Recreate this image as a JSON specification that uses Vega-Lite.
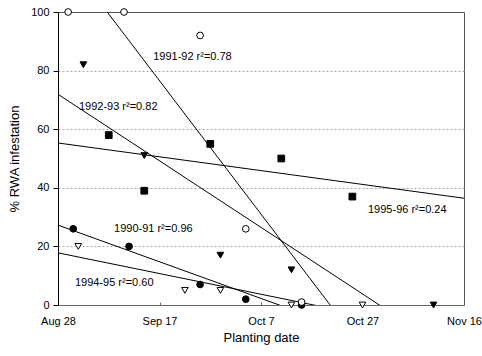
{
  "$schema": "https://vega.github.io/schema/vega-lite/v6.json",
  "autosize": "none",
  "width": 406,
  "height": 293,
  "padding": {"left": 58, "top": 12, "right": 18, "bottom": 51},
  "background": "white",
  "config": {
    "font": "Liberation Sans",
    "view": {"stroke": "#555", "strokeWidth": 1},
    "axis": {"labelFont": "Liberation Sans", "titleFont": "Liberation Sans", "labelColor": "black", "titleColor": "black", "titleFontWeight": "normal"}
  },
  "layer": [
    {
      "data": {
        "values": [
          {"series": "1990-91", "date": "2000-08-31", "value": 26},
          {"series": "1990-91", "date": "2000-09-11", "value": 20},
          {"series": "1990-91", "date": "2000-09-25", "value": 7},
          {"series": "1990-91", "date": "2000-10-04", "value": 2},
          {"series": "1990-91", "date": "2000-10-15", "value": 0},
          {"series": "1991-92", "date": "2000-08-30", "value": 100},
          {"series": "1991-92", "date": "2000-09-10", "value": 100},
          {"series": "1991-92", "date": "2000-09-25", "value": 92},
          {"series": "1991-92", "date": "2000-10-04", "value": 26},
          {"series": "1991-92", "date": "2000-10-15", "value": 1},
          {"series": "1992-93", "date": "2000-09-02", "value": 82},
          {"series": "1992-93", "date": "2000-09-14", "value": 51},
          {"series": "1992-93", "date": "2000-09-29", "value": 17},
          {"series": "1992-93", "date": "2000-10-13", "value": 12},
          {"series": "1992-93", "date": "2000-11-10", "value": 0},
          {"series": "1994-95", "date": "2000-09-01", "value": 20},
          {"series": "1994-95", "date": "2000-09-22", "value": 5},
          {"series": "1994-95", "date": "2000-09-29", "value": 5},
          {"series": "1994-95", "date": "2000-10-13", "value": 0},
          {"series": "1994-95", "date": "2000-10-27", "value": 0},
          {"series": "1995-96", "date": "2000-09-07", "value": 58},
          {"series": "1995-96", "date": "2000-09-14", "value": 39},
          {"series": "1995-96", "date": "2000-09-27", "value": 55},
          {"series": "1995-96", "date": "2000-10-11", "value": 50},
          {"series": "1995-96", "date": "2000-10-25", "value": 37}
        ],
        "format": {"parse": {"date": "date"}}
      },
      "layer": [
        {
          "transform": [
            {"regression": "value", "on": "date", "groupby": ["series"], "extent": [966729600000, 975110400000]}
          ],
          "mark": {"type": "line", "color": "black", "strokeWidth": 1, "clip": true},
          "encoding": {
            "x": {
              "field": "date", "type": "temporal",
              "scale": {"type": "utc", "domain": [{"year": 2000, "month": 8, "date": 28, "utc": true}, {"year": 2000, "month": 11, "date": 16, "utc": true}]},
              "axis": {
                "title": "Planting date", "titleFontSize": 13, "titlePadding": 5,
                "values": [
                  {"year": 2000, "month": 8, "date": 28, "utc": true},
                  {"year": 2000, "month": 9, "date": 17, "utc": true},
                  {"year": 2000, "month": 10, "date": 7, "utc": true},
                  {"year": 2000, "month": 10, "date": 27, "utc": true},
                  {"year": 2000, "month": 11, "date": 16, "utc": true}
                ],
                "format": "%b %-d", "labelFontSize": 11, "labelPadding": 13,
                "tickSize": -3, "tickColor": "#666", "domainColor": "#666",
                "grid": false, "labelFlush": false, "labelOverlap": false
              }
            },
            "y": {
              "field": "value", "type": "quantitative",
              "scale": {"domain": [0, 100], "nice": false},
              "axis": {
                "title": "% RWA infestation", "titleFontSize": 13, "titlePadding": 9,
                "values": [0, 20, 40, 60, 80, 100],
                "labelFontSize": 11, "labelPadding": 4, "tickSize": 5,
                "tickColor": "black", "domainColor": "black",
                "grid": true, "gridColor": "#aaa", "gridDash": [2, 2],
                "gridOpacity": {"condition": {"test": "datum.value === 0 || datum.value === 100", "value": 0}, "value": 1}
              }
            },
            "detail": {"field": "series"}
          }
        },
        {
          "mark": {"type": "point", "filled": false, "stroke": "black", "strokeWidth": 1, "size": 45, "opacity": 1},
          "encoding": {
            "x": {"field": "date", "type": "temporal"},
            "y": {"field": "value", "type": "quantitative"},
            "shape": {
              "field": "series", "type": "nominal",
              "scale": {"domain": ["1990-91", "1991-92", "1992-93", "1994-95", "1995-96"], "range": ["circle", "circle", "triangle-down", "triangle-down", "square"]},
              "legend": null
            },
            "fill": {
              "field": "series", "type": "nominal",
              "scale": {"domain": ["1990-91", "1991-92", "1992-93", "1994-95", "1995-96"], "range": ["black", "white", "black", "white", "black"]},
              "legend": null
            }
          }
        }
      ]
    },
    {
      "data": {
        "values": [
          {"label": "1991-92 r²=0.78", "date": "2000-09-15T18:00:00Z", "value": 84.5},
          {"label": "1992-93 r²=0.82", "date": "2000-09-01T03:00:00Z", "value": 67.6},
          {"label": "1990-91 r²=0.96", "date": "2000-09-08T01:00:00Z", "value": 26},
          {"label": "1994-95 r²=0.60", "date": "2000-08-31T08:00:00Z", "value": 7.4},
          {"label": "1995-96 r²=0.24", "date": "2000-10-28T02:00:00Z", "value": 32.3}
        ],
        "format": {"parse": {"date": "date"}}
      },
      "mark": {"type": "text", "align": "left", "baseline": "middle", "fontSize": 11, "font": "Liberation Sans", "color": "black"},
      "encoding": {
        "x": {"field": "date", "type": "temporal"},
        "y": {"field": "value", "type": "quantitative"},
        "text": {"field": "label"}
      }
    }
  ]
}
